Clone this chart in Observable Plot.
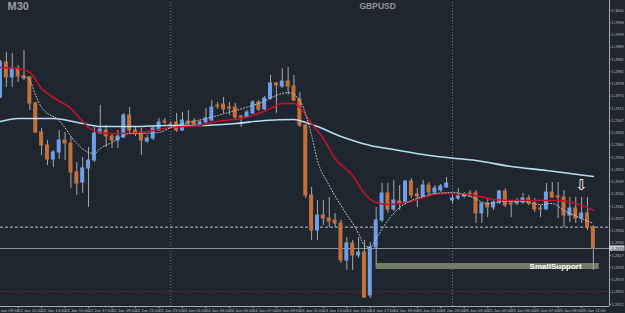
<!DOCTYPE html>
<html><head><meta charset="utf-8">
<script src="https://cdn.jsdelivr.net/npm/d3@7"></script>
<script src="https://cdn.jsdelivr.net/npm/@observablehq/plot@0.6"></script>
<style>html,body{margin:0;padding:0;background:#20262f;overflow:hidden}</style>
</head><body><div id="chart"></div>
<script>
// ---- data (GBPUSD M30), candle index 0..101 ----
const openP = [1.29739,1.29844,1.29799,1.29826,1.29802,1.29799,1.29721,1.29634,1.29595,1.29553,
1.29574,1.29610,1.29601,1.29514,1.29484,1.29526,1.29550,1.29631,1.29640,1.29622,
1.29610,1.29619,1.29685,1.29640,1.29634,1.29607,1.29616,1.29640,1.29667,1.29658,
1.29664,1.29640,1.29667,1.29667,1.29658,1.29664,1.29670,1.29715,1.29718,1.29709,
1.29709,1.29682,1.29679,1.29691,1.29724,1.29703,1.29736,1.29781,1.29772,1.29787,
1.29772,1.29733,1.29655,1.29445,1.29340,1.29385,1.29376,1.29370,1.29361,1.29250,
1.29301,1.29265,1.29274,1.29145,1.29289,1.29370,1.29451,1.29403,1.29427,1.29424,
1.29487,1.29448,1.29439,1.29475,1.29454,1.29460,1.29469,1.29430,1.29436,1.29442,
1.29451,1.29451,1.29391,1.29421,1.29409,1.29424,1.29457,1.29421,1.29421,1.29424,
1.29436,1.29421,1.29406,1.29403,1.29454,1.29442,1.29439,1.29385,1.29406,1.29376,
1.29391,1.29349];
const highP = [1.29850,1.29874,1.29871,1.29835,1.29880,1.29802,1.29724,1.29646,1.29610,1.29580,
1.29640,1.29634,1.29619,1.29544,1.29559,1.29589,1.29649,1.29715,1.29655,1.29631,
1.29640,1.29691,1.29709,1.29649,1.29646,1.29625,1.29655,1.29676,1.29676,1.29667,
1.29691,1.29694,1.29700,1.29676,1.29670,1.29706,1.29730,1.29724,1.29739,1.29724,
1.29721,1.29685,1.29700,1.29730,1.29730,1.29742,1.29805,1.29784,1.29826,1.29829,
1.29805,1.29754,1.29658,1.29469,1.29430,1.29430,1.29439,1.29391,1.29370,1.29319,
1.29310,1.29319,1.29310,1.29304,1.29409,1.29481,1.29481,1.29490,1.29475,1.29490,
1.29496,1.29466,1.29490,1.29484,1.29475,1.29478,1.29499,1.29448,1.29466,1.29454,
1.29460,1.29460,1.29421,1.29436,1.29430,1.29460,1.29466,1.29430,1.29436,1.29451,
1.29445,1.29436,1.29415,1.29481,1.29484,1.29484,1.29460,1.29439,1.29439,1.29439,
1.29439,1.29355];
const lowP = [1.29736,1.29769,1.29769,1.29784,1.29790,1.29700,1.29631,1.29565,1.29535,1.29529,
1.29553,1.29550,1.29466,1.29445,1.29451,1.29409,1.29544,1.29628,1.29589,1.29586,
1.29586,1.29616,1.29628,1.29622,1.29565,1.29601,1.29610,1.29637,1.29658,1.29649,
1.29634,1.29637,1.29655,1.29652,1.29652,1.29658,1.29667,1.29703,1.29691,1.29685,
1.29670,1.29649,1.29676,1.29688,1.29697,1.29700,1.29730,1.29691,1.29766,1.29745,
1.29727,1.29649,1.29436,1.29310,1.29310,1.29355,1.29349,1.29349,1.29241,1.29220,
1.29220,1.29256,1.29136,1.29136,1.29235,1.29364,1.29391,1.29397,1.29400,1.29418,
1.29436,1.29409,1.29436,1.29445,1.29448,1.29454,1.29466,1.29421,1.29430,1.29436,
1.29439,1.29361,1.29361,1.29379,1.29400,1.29418,1.29409,1.29379,1.29415,1.29418,
1.29415,1.29394,1.29379,1.29400,1.29436,1.29376,1.29349,1.29364,1.29361,1.29361,
1.29340,1.29220];
const closeP = [1.29844,1.29799,1.29826,1.29802,1.29796,1.29721,1.29634,1.29595,1.29553,1.29574,
1.29610,1.29601,1.29514,1.29481,1.29526,1.29550,1.29631,1.29643,1.29622,1.29610,
1.29622,1.29685,1.29640,1.29631,1.29610,1.29616,1.29646,1.29664,1.29664,1.29655,
1.29640,1.29670,1.29661,1.29658,1.29664,1.29676,1.29709,1.29712,1.29703,1.29706,
1.29679,1.29679,1.29694,1.29724,1.29703,1.29736,1.29781,1.29775,1.29787,1.29772,
1.29730,1.29655,1.29445,1.29340,1.29385,1.29376,1.29367,1.29361,1.29250,1.29301,
1.29265,1.29274,1.29139,1.29289,1.29370,1.29451,1.29403,1.29430,1.29421,1.29487,
1.29445,1.29442,1.29475,1.29454,1.29466,1.29472,1.29481,1.29436,1.29442,1.29448,
1.29445,1.29391,1.29421,1.29409,1.29424,1.29457,1.29415,1.29418,1.29424,1.29436,
1.29421,1.29403,1.29403,1.29454,1.29439,1.29439,1.29385,1.29406,1.29376,1.29391,
1.29349,1.29286];

// moving averages (candle index -> price)
const redMaIdx = [0,3,5,7,9,12,14,15,17,19,22,24,27,29,34,36,38,41,44,46,48,50,51,53,55,57,60,62,64,66,68,70,72,75,77,81,84,87,92,95,98,100,101];
const redMaVal = [1.29829,1.29826,1.29814,1.29766,1.29739,1.29706,1.29667,1.29649,1.29634,1.29631,1.29631,1.29634,1.29643,1.29649,1.29655,1.29664,1.29670,1.29676,1.29691,1.29706,1.29721,1.29721,1.29709,1.29661,1.29616,1.29556,1.29505,1.29451,1.29424,1.29418,1.29421,1.29427,1.29439,1.29451,1.29451,1.29445,1.29433,1.29430,1.29430,1.29430,1.29421,1.29409,1.29400];
const slowMaIdx = [0,3,9,14,17,23,28,34,40,45,50,52,54,56,58,60,63,67,72,76,81,87,93,97,101];
const slowMaVal = [1.29667,1.29676,1.29676,1.29661,1.29652,1.29652,1.29655,1.29655,1.29661,1.29670,1.29673,1.29664,1.29652,1.29637,1.29622,1.29610,1.29595,1.29583,1.29568,1.29559,1.29550,1.29532,1.29520,1.29511,1.29502];
const fastMaIdx = [4,5,6,7,10,13,15,16,17,19,22,24,27,29,32,35,40,44,48,49,51,53,54,56,58,61,62,63,64,66,68,70,72,74,77,80,83,86,89,92,94,96,99,101];
const fastMaVal = [1.29802,1.29790,1.29745,1.29709,1.29670,1.29601,1.29574,1.29571,1.29586,1.29604,1.29631,1.29631,1.29634,1.29649,1.29664,1.29676,1.29700,1.29721,1.29751,1.29754,1.29730,1.29625,1.29550,1.29475,1.29415,1.29331,1.29295,1.29289,1.29316,1.29370,1.29409,1.29430,1.29442,1.29451,1.29454,1.29442,1.29421,1.29427,1.29427,1.29418,1.29421,1.29400,1.29376,1.29361];

// horizontal levels
const dashedLevel = 1.29350;
const redDottedLevel = 1.29157;
const bidPrice = 1.29286;
const supportZone = {start: 64, end: 102, top: 1.29241, bottom: 1.29223, label: "SmallSupport"};
const arrowCandle = 99;
const arrowPrice = 1.29477;
const daySeparators = [29, 77];

// axis ticks
const priceTicks = [1.30000,1.29963,1.29927,1.29890,1.29853,1.29816,1.29780,1.29743,1.29706,1.29669,1.29633,1.29596,1.29559,1.29522,1.29486,1.29449,1.29412,1.29375,1.29339,1.29302,1.29265,1.29228,1.29192,1.29155,1.29118];
const timeTickIdx = [-1,3,7,11,15,19,23,27,31,35,39,43,47,51,55,59,63,67,71,75,79,83,87,91,95,99];
const timeTickLabels = ["22 Jan 09:00","22 Jan 11:00","22 Jan 13:00","22 Jan 15:00","22 Jan 17:00","22 Jan 19:00","22 Jan 21:00","22 Jan 23:00",
"24 Jan 01:00","24 Jan 03:00","24 Jan 05:00","24 Jan 07:00","24 Jan 09:00","24 Jan 11:00","24 Jan 13:00","24 Jan 15:00","24 Jan 17:00","24 Jan 19:00","24 Jan 21:00","24 Jan 23:00",
"25 Jan 01:00","25 Jan 03:00","25 Jan 05:00","25 Jan 07:00","25 Jan 09:00","25 Jan 11:00"];

// ---- build ----
const W = 625, H = 313;
const pxPerCandle = 5.87;
const xMax = W / pxPerCandle;
const axisX = 609 / pxPerCandle;        // right price axis
const axisYPrice = 1.29112;              // bottom time axis
const BG = "#20262f", BULL = "#6f9ee8", BEAR = "#c4703a", WICK = "#a4a9b0", AX = "#a8acb2";

const candles = openP.map((o, i) => ({i, o, h: highP[i], l: lowP[i], c: closeP[i], up: closeP[i] > o}));
const red = redMaIdx.map((i, k) => ({i, v: redMaVal[k]}));
const slow = slowMaIdx.map((i, k) => ({i, v: slowMaVal[k]}));
const fast = fastMaIdx.map((i, k) => ({i, v: fastMaVal[k]}));
const pxPrice = 0.00939 / H; // price per pixel

const chart = Plot.plot({
  width: W, height: H, margin: 0,
  style: {background: BG, fontFamily: "Liberation Sans, Arial, sans-serif"},
  x: {domain: [0, xMax], axis: null},
  y: {domain: [1.29091, 1.30030], axis: null},
  marks: [
    Plot.ruleX(daySeparators, {x: d => d, y1: axisYPrice, y2: 1.30030, stroke: "#7a7f86", strokeDasharray: "1,2", strokeWidth: 1}),
    Plot.ruleY([dashedLevel], {x1: 0, x2: axisX, stroke: "#d8dce0", strokeDasharray: "3,2", strokeWidth: 1, strokeOpacity: 0.85}),
    Plot.ruleY([redDottedLevel], {x1: 0, x2: axisX, stroke: "#8a1c1c", strokeDasharray: "1.5,1.5", strokeWidth: 1}),
    Plot.ruleY([bidPrice], {x1: 0, x2: axisX, stroke: "#8e9399", strokeWidth: 1}),
    Plot.rect([supportZone], {x1: "start", x2: "end", y1: "bottom", y2: "top", fill: "#7c8670", fillOpacity: 0.9}),
    Plot.text([supportZone], {x: 99, y: d => (d.top + d.bottom) / 2, text: "label", textAnchor: "end", fill: "white", fontWeight: "bold", fontSize: 8}),
    Plot.ruleX(candles, {x: "i", y1: "l", y2: "h", stroke: WICK, strokeWidth: 1}),
    Plot.rect(candles, {x1: d => d.i - 0.34, x2: d => d.i + 0.34, y1: "o", y2: "c", fill: d => d.up ? BULL : BEAR, insetTop: -0.5, insetBottom: -0.5}),
    Plot.line(slow, {x: "i", y: "v", stroke: "#b4e0ee", strokeWidth: 1.6, curve: "monotone-x"}),
    Plot.line(red, {x: "i", y: "v", stroke: "#c3122a", strokeWidth: 1.6, curve: "monotone-x"}),
    Plot.line(fast, {x: "i", y: "v", stroke: "#c8ccd0", strokeWidth: 1, strokeDasharray: "1,2", curve: "monotone-x"}),
    Plot.text(["⇩"], {x: arrowCandle, y: arrowPrice, fill: "white", fontSize: 15, fontFamily: "DejaVu Sans"}),
    // right price axis
    Plot.ruleX([axisX], {y1: axisYPrice, y2: 1.30030, stroke: AX, strokeWidth: 1}),
    Plot.ruleY(priceTicks, {x1: axisX, x2: axisX + 0.3, stroke: AX}),
    Plot.text(priceTicks, {x: axisX + 0.35, y: d => d, text: d => d.toFixed(4), textAnchor: "start", fill: "#b8bcc2", fontSize: 4}),
    Plot.rect([bidPrice], {x1: axisX, x2: xMax - 0.1, y1: d => d - 2.6 * pxPrice, y2: d => d + 2.6 * pxPrice, fill: "#c9cccf"}),
    Plot.text([bidPrice], {x: axisX + 0.35, y: d => d, text: d => d.toFixed(4), textAnchor: "start", fill: BG, fontSize: 4}),
    // bottom time axis
    Plot.ruleY([axisYPrice], {x1: 0, x2: axisX, stroke: AX, strokeWidth: 1}),
    Plot.ruleX(timeTickIdx, {x: d => d, y1: axisYPrice, y2: axisYPrice - 2 * pxPrice, stroke: AX}),
    Plot.text(timeTickIdx, {x: d => d, y: axisYPrice - 4.5 * pxPrice, text: (d, k) => timeTickLabels[k], textAnchor: "start", fill: "#b8bcc2", fontSize: 4.2}),
    // titles
    Plot.text(["M30"], {frameAnchor: "top-left", dx: 7, dy: 2, text: d => d, fill: "#9a9da2", fontWeight: "bold", fontSize: 11, textAnchor: "start", lineAnchor: "top"}),
    Plot.text(["GBPUSD"], {frameAnchor: "top-left", dx: 359, dy: 2, text: d => d, fill: "#8f9398", fontWeight: "bold", fontSize: 8.5, textAnchor: "start", lineAnchor: "top"})
  ]
});
document.getElementById("chart").appendChild(chart);
</script>
</body></html>
